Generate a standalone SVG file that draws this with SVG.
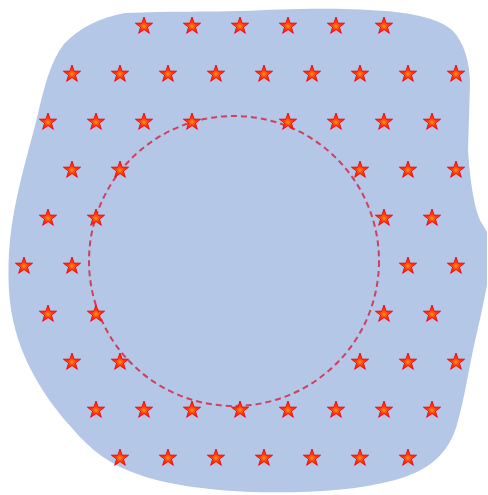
<svg xmlns="http://www.w3.org/2000/svg" xmlns:xlink="http://www.w3.org/1999/xlink" width="488" height="495" viewBox="0 0 488 495">
  <defs>
    <radialGradient id="starGrad" cx="50%" cy="55%" r="50%">
      <stop offset="0" stop-color="#ff9a10"/>
      <stop offset="0.35" stop-color="#ff4a08"/>
      <stop offset="1" stop-color="#ff1408"/>
    </radialGradient>
    <polygon id="star" points="0,-9 2.12,-2.91 8.56,-2.78 3.42,1.11 5.29,7.28 0,3.6 -5.29,7.28 -3.42,1.11 -8.56,-2.78 -2.12,-2.91" fill="url(#starGrad)" stroke="#e8101c" stroke-width="1" stroke-linejoin="miter"/>
  </defs>
  <style>
    .region { fill: #b4c7e7; stroke: none; }
    .boundary { fill: none; stroke: #d0405e; stroke-width: 2; stroke-dasharray: 6 4; }
  </style>
  <rect width="488" height="495" fill="#ffffff"/>
  <g id="region">
    <path class="region" d="M 125,13 C 170,11 210,12 240,11 C 290,9 330,7 385,11 C 420,14 440,20 452,30 C 464,42 470,62 470,85 L 468,150 C 470,180 474,208 481,222 L 487,232 L 487,285 C 484,302 478,328 473,350 C 467,380 463,405 456,428 C 446,458 424,472 395,480 C 352,492 300,493 250,492 C 205,490 165,484 140,475 C 112,466 90,450 72,428 C 48,402 26,368 16,332 C 8,305 7,272 10,240 C 14,200 26,160 37,118 C 44,88 50,62 64,44 C 80,27 100,18 125,13 Z"/>
  </g>
  <g id="circle">
    <circle class="boundary" cx="234" cy="261" r="145"/>
  </g>
  <g id="stars">
    <use href="#star" x="144" y="26"/><use href="#star" x="192" y="26"/><use href="#star" x="240" y="26"/><use href="#star" x="288" y="26"/><use href="#star" x="336" y="26"/><use href="#star" x="384" y="26"/>
    <use href="#star" x="72" y="74"/><use href="#star" x="120" y="74"/><use href="#star" x="168" y="74"/><use href="#star" x="216" y="74"/><use href="#star" x="264" y="74"/><use href="#star" x="312" y="74"/><use href="#star" x="360" y="74"/><use href="#star" x="408" y="74"/><use href="#star" x="456" y="74"/>
    <use href="#star" x="48" y="122"/><use href="#star" x="96" y="122"/><use href="#star" x="144" y="122"/><use href="#star" x="192" y="122"/><use href="#star" x="288" y="122"/><use href="#star" x="336" y="122"/><use href="#star" x="384" y="122"/><use href="#star" x="432" y="122"/>
    <use href="#star" x="72" y="170"/><use href="#star" x="120" y="170"/><use href="#star" x="360" y="170"/><use href="#star" x="408" y="170"/><use href="#star" x="456" y="170"/>
    <use href="#star" x="48" y="218"/><use href="#star" x="96" y="218"/><use href="#star" x="384" y="218"/><use href="#star" x="432" y="218"/>
    <use href="#star" x="24" y="266"/><use href="#star" x="72" y="266"/><use href="#star" x="408" y="266"/><use href="#star" x="456" y="266"/>
    <use href="#star" x="48" y="314"/><use href="#star" x="96" y="314"/><use href="#star" x="384" y="314"/><use href="#star" x="432" y="314"/>
    <use href="#star" x="72" y="362"/><use href="#star" x="120" y="362"/><use href="#star" x="360" y="362"/><use href="#star" x="408" y="362"/><use href="#star" x="456" y="362"/>
    <use href="#star" x="96" y="410"/><use href="#star" x="144" y="410"/><use href="#star" x="192" y="410"/><use href="#star" x="240" y="410"/><use href="#star" x="288" y="410"/><use href="#star" x="336" y="410"/><use href="#star" x="384" y="410"/><use href="#star" x="432" y="410"/>
    <use href="#star" x="120" y="458"/><use href="#star" x="168" y="458"/><use href="#star" x="216" y="458"/><use href="#star" x="264" y="458"/><use href="#star" x="312" y="458"/><use href="#star" x="360" y="458"/><use href="#star" x="408" y="458"/>
  </g>
</svg>
